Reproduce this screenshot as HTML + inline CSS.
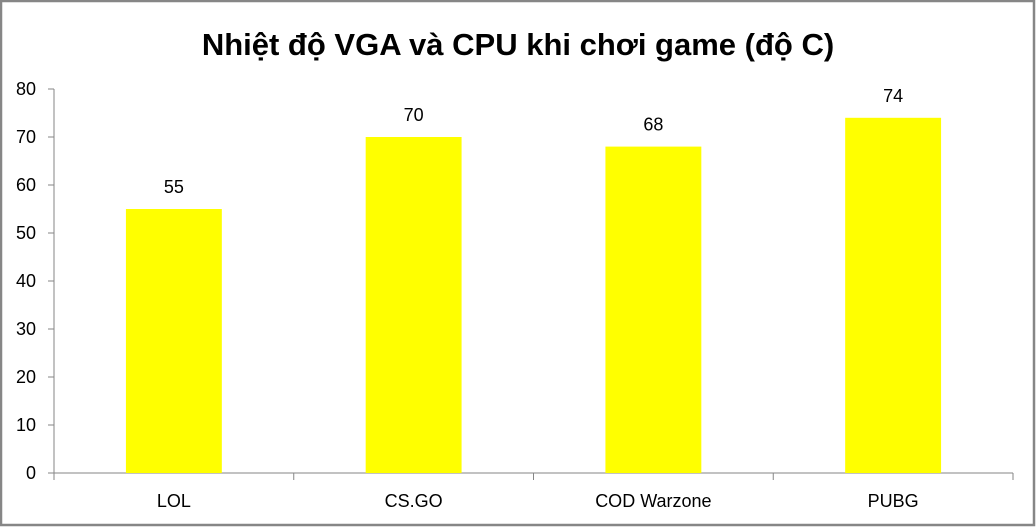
<!DOCTYPE html>
<html><head><meta charset="utf-8"><style>
body{margin:0;background:#fff;}
svg{display:block;font-family:"Liberation Sans",sans-serif;}
</style></head><body>
<svg id="chart" width="1036" height="527">
<rect x="1" y="1" width="1033" height="524" fill="#fff" stroke="#868686" stroke-width="2.5"/>
<text x="518" y="55" text-anchor="middle" font-size="31" font-weight="bold" fill="#000">Nhiệt độ VGA và CPU khi chơi game (độ C)</text>
<g id="axes"></g>
<g id="bars"></g>
</svg>
<script>
const categories = ["LOL","CS.GO","COD Warzone","PUBG"];
const values = [55,70,68,74];
const yTicks = [0,10,20,30,40,50,60,70,80];
const X0=54, X1=1013, Y0=473, Y1=89, YMAX=80;
const NS="http://www.w3.org/2000/svg";
function y(v){return Y0-(v/YMAX)*(Y0-Y1);}
const bw=(X1-X0)/categories.length;
function xc(i){return X0+bw*(i+0.5);}
const axes=document.getElementById('axes'), bars=document.getElementById('bars');
function mk(tag,attrs,parent){const e=document.createElementNS(NS,tag);for(const k in attrs)e.setAttribute(k,attrs[k]);parent.appendChild(e);return e;}
yTicks.forEach(t=>{
  const l=mk('line',{x1:X0-6,x2:X0,y1:y(t),y2:y(t),stroke:'#868686'},axes);
  
  
  const tx=mk('text',{x:X0-18,y:y(t)+6,'text-anchor':'end','font-size':18,fill:'#000'},axes);
  tx.textContent=t;
  
  
});
const ya=mk('line',{x1:X0,x2:X0,y1:Y1,y2:Y0,stroke:'#868686'},axes);


const xa=mk('line',{x1:X0,x2:X1,y1:Y0,y2:Y0,stroke:'#868686'},axes);


for(let i=0;i<=categories.length;i++){
  const t=mk('line',{x1:X0+bw*i,x2:X0+bw*i,y1:Y0,y2:Y0+7,stroke:'#868686'},axes);
  
  
}
categories.forEach((c,i)=>{
  const w=bw*0.4;
  const r=mk('rect',{x:xc(i)-w/2,y:y(values[i]),width:w,height:Y0-y(values[i]),fill:'#ffff00'},bars);
  
  
  const v=mk('text',{x:xc(i),y:y(values[i])-16,'text-anchor':'middle','font-size':18,fill:'#000'},bars);
  v.textContent=values[i];
  
  
  const lb=mk('text',{x:xc(i),y:Y0+34,'text-anchor':'middle','font-size':18,fill:'#000'},bars);
  lb.textContent=c;
  
  
});
</script>
</body></html>
